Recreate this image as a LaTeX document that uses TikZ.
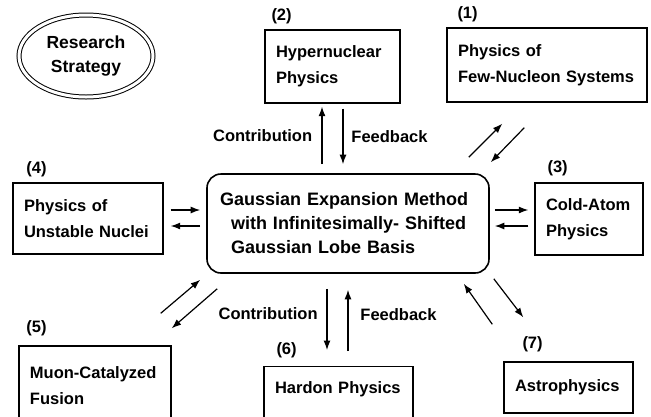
\documentclass[tikz,border=0pt]{standalone}
\usepackage{fontspec}
\setmainfont{Liberation Sans}
\usetikzlibrary{positioning,shapes.geometric,arrows.meta}

\newcommand{\topicfont}{\fontsize{16.5}{26}\selectfont\bfseries}
\newcommand{\methodfont}{\fontsize{18}{24}\selectfont\bfseries}

\tikzset{
  topic/.style={draw, line width=1.4pt, rectangle, align=left, inner xsep=11pt, font=\topicfont},
  method/.style={draw, line width=1.6pt, rounded corners=14pt, align=left, inner xsep=13pt,
                 text width=256pt, minimum height=99pt, font=\methodfont},
  tag/.style={inner sep=0pt, font=\topicfont},
  note/.style={font=\topicfont},
  flow/.style={->, line width=1.2pt},
}

\begin{document}
\begin{tikzpicture}[x=1pt,y=-1pt,>={Latex[length=9.5pt,width=7pt]}]
\useasboundingbox (0,0) rectangle (651,416);
\node[ellipse, draw, double, double distance=3pt, line width=1pt, minimum width=134pt, minimum height=82pt,
      align=center, font=\fontsize{17.5}{24}\selectfont\bfseries] (strategy) at (86,56) {Research\\Strategy};
\node[method] (gem) at (348,223.5)
  {Gaussian Expansion Method\\\hspace*{11pt}with Infinitesimally- Shifted\\\hspace*{11pt}Gaussian Lobe Basis};
\node[topic, text width=113pt, minimum height=73pt] (hyp)   at (332.5,66.5) {Hypernuclear\\Physics};
\node[topic, text width=178pt, minimum height=74pt] (few)   at (547,65)     {Physics of\\Few-Nucleon Systems};
\node[topic, text width=128pt, minimum height=71pt] (unst)  at (88,218.5)   {Physics of\\Unstable Nuclei};
\node[topic, text width=86pt,  minimum height=72pt] (cold)  at (589,219)    {Cold-Atom\\Physics};
\node[topic, text width=130pt, minimum height=80pt] (muon)  at (95,386)     {Muon-Catalyzed\\Fusion};
\node[topic, text width=127pt, minimum height=70pt, text depth=28pt, anchor=north] (hard) at (338.5,366) {Hardon Physics};
\node[topic, text width=107pt, minimum height=51pt] (astro) at (568.5,387.5) {Astrophysics};
% numbers over the boxes
\node[tag, above right=5pt and 7pt of hyp.north west]    (n2) {(2)};
\node[tag, above right=5pt and 11pt of few.north west]   (n1) {(1)};
\node[tag, above right=5pt and 14pt of unst.north west]  (n4) {(4)};
\node[tag, above right=6pt and 13pt of cold.north west]  (n3) {(3)};
\node[tag, above right=9pt and 8pt of muon.north west]   (n5) {(5)};
\node[tag, above right=8pt and 13pt of hard.north west]  (n6) {(6)};
\node[tag, above right=9pt and 19pt of astro.north west] (n7) {(7)};
\draw[flow] ([xshift=-26pt,yshift=9pt]gem.north) -- node[note,left=6pt] {Contribution} ([xshift=-10.5pt,yshift=-3pt]hyp.south);
\draw[flow] ([xshift=10.5pt,yshift=-5pt]hyp.south) -- node[note,right=4.5pt] {Feedback} ([xshift=-5pt,yshift=9pt]gem.north);
\draw[flow] ([xshift=-21pt,yshift=-15pt]gem.south) -- node[note,left=5.5pt,pos=0.4] {Contribution} ([xshift=-11.5pt,yshift=16pt]hard.north);
\draw[flow] ([xshift=9.5pt,yshift=15pt]hard.north) -- node[note,right=8.5pt,pos=0.6] {Feedback} ([yshift=-16pt]gem.south);
\draw[flow] ([xshift=7pt,yshift=8.5pt]unst.east) -- ([xshift=-6pt,yshift=13.5pt]gem.west);
\draw[flow] ([xshift=-6pt,yshift=-2.5pt]gem.west) -- ([xshift=7pt,yshift=-7.5pt]unst.east);
\draw[flow] ([xshift=5pt,yshift=13.5pt]gem.east) -- ([xshift=-6pt,yshift=9pt]cold.west);
\draw[flow] ([xshift=-6pt,yshift=-7pt]cold.west) -- ([xshift=5pt,yshift=-2.5pt]gem.east);
\draw[flow] ([xshift=-21pt,yshift=16pt]gem.north east) -- ([xshift=56pt,yshift=-21pt]few.south west);
\draw[flow] ([xshift=78pt,yshift=-25pt]few.south west) -- ([xshift=1pt,yshift=11pt]gem.north east);
\draw[flow] ([xshift=-11pt,yshift=32pt]muon.north east) -- ([xshift=-6pt,yshift=-6pt]gem.south west);
\draw[flow] ([xshift=11pt,yshift=-15pt]gem.south west) -- ([yshift=17pt]muon.north east);
\draw[flow] ([xshift=-11pt,yshift=37pt]astro.north west) -- ([xshift=-26pt,yshift=-10pt]gem.south east);
\draw[flow] ([xshift=4pt,yshift=-5pt]gem.south east) -- ([xshift=20pt,yshift=44pt]astro.north west);
\end{tikzpicture}
\end{document}
